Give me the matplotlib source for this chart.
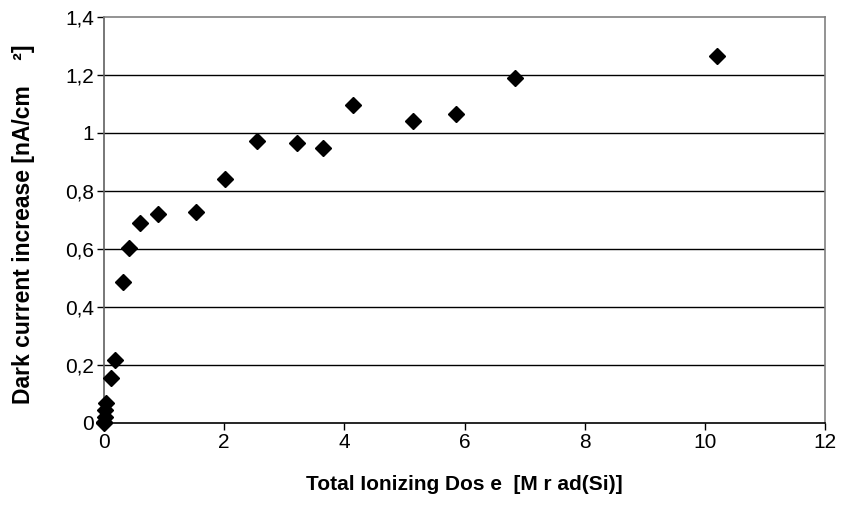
import matplotlib
matplotlib.use("Agg")
import matplotlib.pyplot as plt
from matplotlib.ticker import FuncFormatter

dose = [0.0, 0.005, 0.01, 0.02, 0.04, 0.115, 0.18, 0.32, 0.415, 0.6, 0.9, 1.53, 2.01,
        2.54, 3.21, 3.65, 4.14, 5.15, 5.86, 6.84, 10.2]
current = [0.0, 0.004, 0.02, 0.045, 0.07, 0.155, 0.217, 0.485, 0.602, 0.688, 0.72, 0.727, 0.843,
           0.971, 0.967, 0.95, 1.098, 1.043, 1.064, 1.191, 1.267]
xticks = [0, 2, 4, 6, 8, 10, 12]
yticks = [0, 0.2, 0.4, 0.6, 0.8, 1.0, 1.2, 1.4]

plt.rcParams['font.family'] = ['Liberation Sans', 'DejaVu Sans']

fig = plt.figure(figsize=(8.48, 5.28), dpi=100)
ax = fig.add_axes([104/848, 1-423/528, (825-104)/848, (423-17)/528])

for y in yticks[1:-1]:
    ax.axhline(y, color='black', lw=1, zorder=1)

ax.plot(dose, current, linestyle='none', marker='D', ms=8, color='black', zorder=3, clip_on=False)

ax.set_xlim(0, 12)
ax.set_ylim(0, 1.4)
ax.set_xticks(xticks)
ax.set_yticks(yticks)

def fmt(v, pos):
    s = ('%g' % v).replace('.', ',')
    return s
ax.xaxis.set_major_formatter(FuncFormatter(fmt))
ax.yaxis.set_major_formatter(FuncFormatter(fmt))

for sp in ax.spines.values():
    sp.set_color('#808080')
    sp.set_linewidth(1.2)
ax.spines['bottom'].set_color('black')
ax.spines['left'].set_color('#606060')

ax.tick_params(axis='both', direction='out', length=5, width=1, colors='black', labelsize=15, pad=2)

ax.set_xlabel('Total Ionizing Dos e  [M r ad(Si)]', fontsize=15, fontweight='bold', labelpad=17)
ax.set_ylabel('Dark current increase [nA/cm    ²]', fontsize=16.5, fontweight='bold')
ax.yaxis.set_label_coords(-0.096, 0.49)

fig.savefig('out.png', dpi=100)
